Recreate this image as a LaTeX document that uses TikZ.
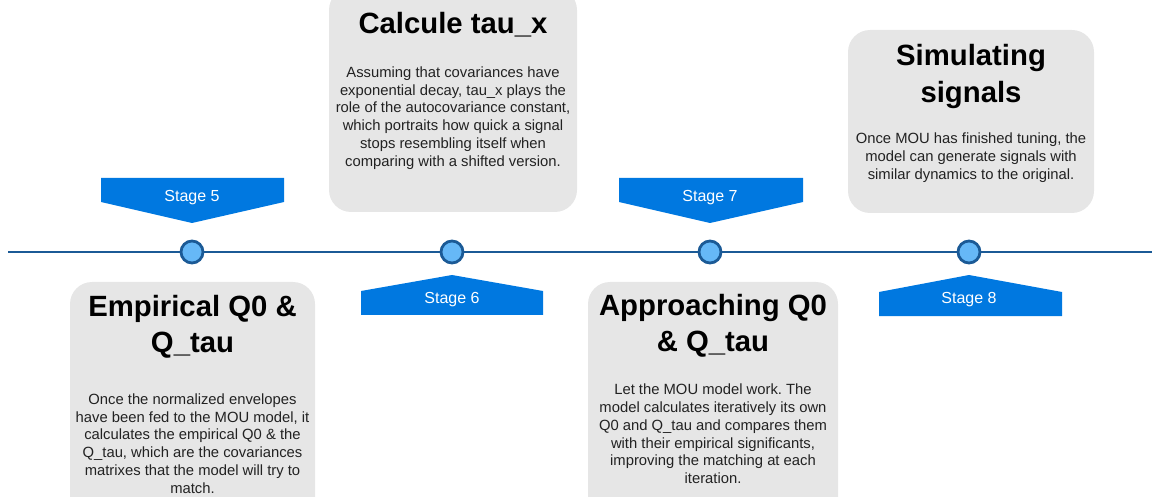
\documentclass[tikz,border=0pt]{standalone}
\usepackage{fontspec}
\setmainfont{Liberation Sans}
\frenchspacing
\definecolor{boxgray}{HTML}{E6E6E6}
\definecolor{bannerblue}{HTML}{0078E0}
\definecolor{linedark}{HTML}{1B5A96}
\definecolor{dotfill}{HTML}{66B8F7}
\definecolor{bodytext}{HTML}{222222}
\begin{document}
\begin{tikzpicture}[x=1pt,y=-1pt,
  card/.style={fill=boxgray, rounded corners=22pt, inner sep=0pt},
  cardtitle/.style={font=\fontsize{29.3}{36.5}\selectfont\bfseries, align=center, inner sep=0pt, text=black},
  cardbody/.style={font=\fontsize{14.8}{17.8}\selectfont, align=center, inner sep=0pt, text=bodytext},
  stagelabel/.style={font=\fontsize{16}{18}\selectfont, text=white, inner sep=0pt},
  dot/.style={circle, fill=dotfill, draw=linedark, line width=2.8pt, minimum size=22pt, inner sep=0pt},
  timeline/.style={draw=linedark, line width=2pt},
  bannerfill/.style={fill=bannerblue}
]
\useasboundingbox (0,0) rectangle (1152,497);
\clip (0,0) rectangle (1152,497);

% cards
\node[card, minimum width=248pt, minimum height=224pt] (card6) at (453,100) {};
\node[card, minimum width=246pt, minimum height=183pt] (card8) at (971,121.5) {};
\node[card, minimum width=245pt, minimum height=240pt] (card5) at (192.5,402) {};
\node[card, minimum width=250pt, minimum height=240pt] (card7) at (713,402) {};

% titles
\node[cardtitle] (t6) at (453,24.5) {Calcule tau\_x};
\node[cardtitle] (t8) at (971,76.5) {Simulating\\signals};
\node[cardtitle] (t5) at (192.5,327) {Empirical Q0 \&\\Q\_tau};
\node[cardtitle] (t7) at (713,326) {Approaching Q0\\\& Q\_tau};

% bodies
\node[cardbody] (b6) at (453,118) {Assuming that covariances have\\exponential decay, tau\_x plays the\\role of the autocovariance constant,\\which portraits how quick a signal\\stops resembling itself when\\comparing with a shifted version.};
\node[cardbody] (b8) at (971,157.5) {Once MOU has finished tuning, the\\model can generate signals with\\similar dynamics to the original.};
\node[cardbody] (b5) at (192.5,443.5) {Once the normalized envelopes\\have been fed to the MOU model, it\\calculates the empirical Q0 \& the\\Q\_tau, which are the covariances\\matrixes that the model will try to\\match.};
\node[cardbody] (b7) at (713,434) {Let the MOU model work. The\\model calculates iteratively its own\\Q0 and Q\_tau and compares them\\with their empirical significants,\\improving the matching at each\\iteration.};

% banners
\fill[bannerfill] (101,178) -- (284,178) -- (284,202) -- (192,223) -- (101,202) -- cycle;
\fill[bannerfill] (619,178) -- (803,178) -- (803,202) -- (710,223) -- (619,202) -- cycle;
\fill[bannerfill] (361,315) -- (543,315) -- (543,291) -- (452,275) -- (361,291) -- cycle;
\fill[bannerfill] (879,316) -- (1062,316) -- (1062,292) -- (969,275) -- (879,292) -- cycle;
\node[stagelabel] (s5) at (192,197.5) {Stage 5};
\node[stagelabel] (s7) at (710,197.5) {Stage 7};
\node[stagelabel] (s6) at (452,299.5) {Stage 6};
\node[stagelabel] (s8) at (969,299.5) {Stage 8};

% timeline
\coordinate (tstart) at (8,252);
\coordinate (tend) at (1152,252);
\draw[timeline] (tstart) -- (tend);
\node[dot] (c5) at (192,252) {};
\node[dot] (c6) at (452,252) {};
\node[dot] (c7) at (710,252) {};
\node[dot] (c8) at (969,252) {};
\end{tikzpicture}
\end{document}
